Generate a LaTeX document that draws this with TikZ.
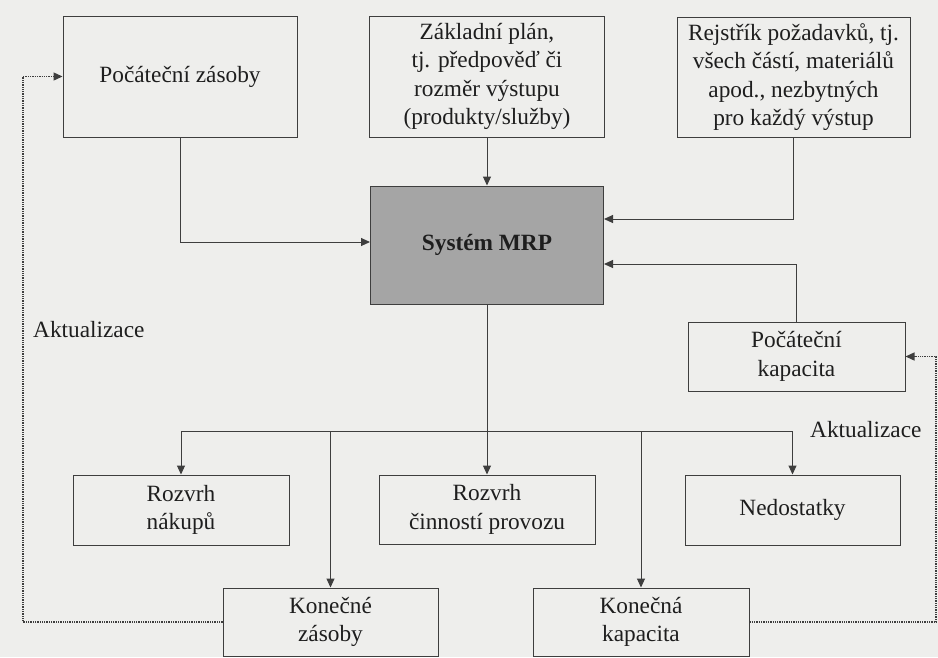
\documentclass[tikz,border=0pt]{standalone}
\usepackage{fontspec}
\setmainfont{Liberation Serif}
\usetikzlibrary{arrows.meta,calc}
\definecolor{bgc}{RGB}{238,238,236}
\definecolor{linec}{RGB}{62,62,62}
\definecolor{mrpc}{RGB}{165,165,165}
\definecolor{txtc}{RGB}{30,30,30}
\begin{document}
\begin{tikzpicture}[x=1pt,y=-1pt,
  every node/.style={font=\fontsize{23.3}{28.5}\selectfont, text=txtc},
  box/.style={draw=linec, line width=1pt, fill=bgc, align=center, inner sep=0pt},
  arr/.style={draw=linec, line width=1pt, -{Triangle[length=9pt,width=8pt]}},
  ln/.style={draw=linec, line width=1pt},
  fb/.style={draw=linec, line width=1.3pt, densely dotted, -{Triangle[length=9pt,width=8pt]}},
  lbl/.style={anchor=west, inner sep=0pt}
]
\useasboundingbox (0,0) rectangle (938,657);
\fill[bgc] (0,0) rectangle (938,657);

% top row
\node[box, minimum width=234pt, minimum height=121pt] (pz) at (180,76.5) {Počáteční zásoby};
\node[box, minimum width=235pt, minimum height=121pt] (zp) at (487,76.5) {Základní plán,\\tj. předpověď či\\rozměr výstupu\\(produkty/služby)};
\node[box, minimum width=233pt, minimum height=120pt] (rj) at (793.5,77) {Rejstřík požadavků, tj.\\všech částí, materiálů\\apod., nezbytných\\pro každý výstup};

% centre
\node[box, fill=mrpc, minimum width=233pt, minimum height=118pt, font=\fontsize{23.3}{28.5}\selectfont\bfseries] (mrp) at (487,245) {Systém MRP};
\node[box, minimum width=217pt, minimum height=69pt] (pk) at (796.5,356.5) {Počáteční\\kapacita};

% bottom rows
\node[box, minimum width=216pt, minimum height=70pt] (rn) at (181,510) {Rozvrh\\nákupů};
\node[box, minimum width=216pt, minimum height=69pt] (rc) at (487,509.5) {Rozvrh\\činností provozu};
\node[box, minimum width=215pt, minimum height=70pt] (ne) at (792.5,510) {Nedostatky};
\node[box, minimum width=215pt, minimum height=68pt] (kz) at (330.5,622) {Konečné\\zásoby};
\node[box, minimum width=216pt, minimum height=68pt] (kk) at (641,622) {Konečná\\kapacita};

% labels
\node[lbl] (akl) at (33,330) {Aktualizace};
\node[lbl] (akr) at (810,430) {Aktualizace};

% inputs to MRP
\draw[arr] (pz.south) |- ([yshift=3pt]mrp.west);
\draw[arr] (zp.south) -- (mrp.north);
\draw[arr] (rj.south) |- ([yshift=26pt]mrp.east);
\draw[arr] (pk.north) |- ([yshift=-19pt]mrp.east);

% outputs from MRP
\coordinate (bus) at (487,431);
\draw[ln] (mrp.south) -- (bus);
\draw[ln] (bus -| rn.north) -- (bus -| ne.north);
\draw[arr] (bus -| rn.north) -- (rn.north);
\draw[arr] (bus -| kz.north) -- (kz.north);
\draw[arr] (bus) -- (rc.north);
\draw[arr] (bus -| kk.north) -- (kk.north);
\draw[arr] (bus -| ne.north) -- (ne.north);

% feedback loops
\coordinate (lx) at (23,0);
\coordinate (rx) at (936,0);
\draw[fb] (kz.west) -- (kz.west -| lx) |- (pz.west);
\draw[fb] (kk.east) -- (kk.east -| rx) |- (pk.east);
\end{tikzpicture}
\end{document}
